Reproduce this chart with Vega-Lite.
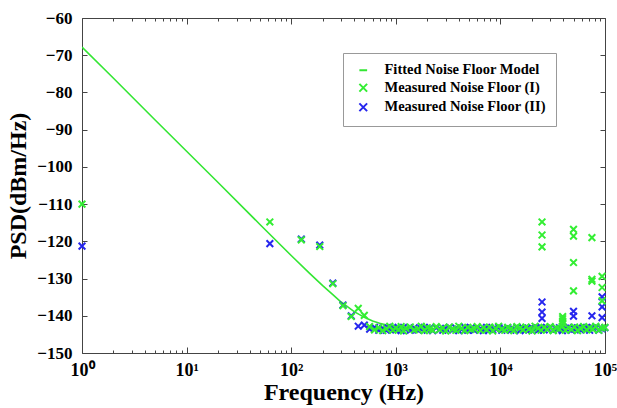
{
  "$schema": "https://vega.github.io/schema/vega-lite/v6.json",
  "width": 523,
  "height": 335,
  "autosize": "none",
  "padding": {"left": 82, "top": 18, "right": 12, "bottom": 55},
  "background": "white",
  "config": {
    "view": {"stroke": "#444", "strokeWidth": 1},
    "font": "Liberation Serif"
  },
  "datasets": {
    "fit": [
      {"f": 1, "psd": -67.8, "s": "fit"},
      {"f": 2, "psd": -76.2, "s": "fit"},
      {"f": 5, "psd": -87.4, "s": "fit"},
      {"f": 10, "psd": -95.8, "s": "fit"},
      {"f": 20, "psd": -104.2, "s": "fit"},
      {"f": 50, "psd": -115.4, "s": "fit"},
      {"f": 100, "psd": -123.8, "s": "fit"},
      {"f": 150, "psd": -128.6, "s": "fit"},
      {"f": 200, "psd": -131.9, "s": "fit"},
      {"f": 250, "psd": -134.3, "s": "fit"},
      {"f": 300, "psd": -136.3, "s": "fit"},
      {"f": 350, "psd": -137.7, "s": "fit"},
      {"f": 400, "psd": -138.9, "s": "fit"},
      {"f": 450, "psd": -139.7, "s": "fit"},
      {"f": 500, "psd": -140.4, "s": "fit"},
      {"f": 600, "psd": -141.4, "s": "fit"},
      {"f": 700, "psd": -142.0, "s": "fit"},
      {"f": 800, "psd": -142.4, "s": "fit"},
      {"f": 1000, "psd": -142.8, "s": "fit"},
      {"f": 1500, "psd": -143.3, "s": "fit"},
      {"f": 2000, "psd": -143.4, "s": "fit"},
      {"f": 5000, "psd": -143.5, "s": "fit"},
      {"f": 100000, "psd": -143.5, "s": "fit"}
    ],
    "pts": [
      {"f": 1, "I": -110, "II": -121.3},
      {"f": 62.5, "I": -114.8, "II": -120.6},
      {"f": 125, "I": -119.6, "II": -119.4},
      {"f": 187.5, "I": -121.4, "II": -121.0},
      {"f": 250, "I": -131.4, "II": -131.2},
      {"f": 312.5, "I": -137.3, "II": -137.1},
      {"f": 375, "I": -140.2, "II": -140.0},
      {"f": 437.5, "I": -138.0, "II": -142.8},
      {"f": 500, "I": -139.9, "II": -142.5},
      {"f": 562.5, "I": -142.9, "II": -143.6},
      {"f": 625, "I": -143.8, "II": -143.1},
      {"f": 687.5, "I": -143.2, "II": -143.9},
      {"f": 750, "I": -144.0, "II": -143.3},
      {"f": 812.5, "I": -143.5, "II": -143.9},
      {"f": 875, "I": -142.8, "II": -143.5},
      {"f": 937.5, "I": -143.9, "II": -143.1},
      {"f": 1000, "I": -143.3, "II": -143.8},
      {"f": 1062.5, "I": -143.7, "II": -143.4},
      {"f": 1125, "I": -142.9, "II": -144.0},
      {"f": 1187.5, "I": -144.1, "II": -143.1},
      {"f": 1250, "I": -143.4, "II": -143.7},
      {"f": 1375, "I": -143.0, "II": -143.9},
      {"f": 1500, "I": -143.8, "II": -143.2},
      {"f": 1625, "I": -143.6, "II": -143.8},
      {"f": 1750, "I": -142.8, "II": -143.5},
      {"f": 1875, "I": -144.0, "II": -143.1},
      {"f": 2000, "I": -143.2, "II": -143.9},
      {"f": 2125, "I": -143.5, "II": -143.3},
      {"f": 2250, "I": -143.9, "II": -144.0},
      {"f": 2437.5, "I": -142.9, "II": -143.2},
      {"f": 2625, "I": -143.7, "II": -143.7},
      {"f": 2812.5, "I": -143.3, "II": -143.9},
      {"f": 3000, "I": -144.1, "II": -143.4},
      {"f": 3250, "I": -143.0, "II": -143.1},
      {"f": 3500, "I": -143.6, "II": -143.8},
      {"f": 3750, "I": -143.9, "II": -143.3},
      {"f": 4000, "I": -142.8, "II": -144.0},
      {"f": 4250, "I": -143.4, "II": -143.6},
      {"f": 4562.5, "I": -144.0, "II": -143.1},
      {"f": 4875, "I": -143.1, "II": -143.9},
      {"f": 5250, "I": -143.7, "II": -143.3},
      {"f": 5625, "I": -143.5, "II": -143.9},
      {"f": 6000, "I": -142.9, "II": -143.2},
      {"f": 6437.5, "I": -143.9, "II": -143.6},
      {"f": 6875, "I": -143.2, "II": -144.0},
      {"f": 7375, "I": -143.8, "II": -143.1},
      {"f": 7875, "I": -143.0, "II": -143.7},
      {"f": 8437.5, "I": -144.1, "II": -143.8},
      {"f": 9000, "I": -143.4, "II": -143.4},
      {"f": 9625, "I": -142.8, "II": -143.1},
      {"f": 10312.5, "I": -143.6, "II": -143.9},
      {"f": 11000, "I": -143.9, "II": -143.5},
      {"f": 11750, "I": -143.1, "II": -143.2},
      {"f": 12562.5, "I": -143.5, "II": -143.9},
      {"f": 13437.5, "I": -144.0, "II": -143.7},
      {"f": 14375, "I": -142.9, "II": -143.1},
      {"f": 15375, "I": -143.3, "II": -144.0},
      {"f": 16437.5, "I": -143.8, "II": -143.3},
      {"f": 17562.5, "I": -143.0, "II": -143.7},
      {"f": 18750, "I": -143.6, "II": -143.8},
      {"f": 20062.5, "I": -144.1, "II": -143.2},
      {"f": 21437.5, "I": -142.8, "II": -143.5},
      {"f": 22937.5, "I": -143.4, "II": -143.9},
      {"f": 24500, "I": -143.9, "II": -143.1},
      {"f": 26187.5, "I": -143.1, "II": -143.8},
      {"f": 28000, "I": -143.7, "II": -143.4},
      {"f": 29937.5, "I": -142.9, "II": -143.1},
      {"f": 32000, "I": -144.0, "II": -143.9},
      {"f": 34250, "I": -143.3, "II": -143.6},
      {"f": 36625, "I": -143.5, "II": -143.2},
      {"f": 39125, "I": -142.8, "II": -144.0},
      {"f": 41812.5, "I": -143.9, "II": -143.3},
      {"f": 44687.5, "I": -143.2, "II": -143.1},
      {"f": 47812.5, "I": -143.7, "II": -143.9},
      {"f": 51125, "I": -143.0, "II": -143.6},
      {"f": 54625, "I": -144.0, "II": -143.2},
      {"f": 58375, "I": -143.4, "II": -143.8},
      {"f": 62437.5, "I": -142.9, "II": -143.4},
      {"f": 66750, "I": -143.8, "II": -143.1},
      {"f": 71375, "I": -143.2, "II": -143.9},
      {"f": 76312.5, "I": -143.6, "II": -143.3},
      {"f": 81562.5, "I": -142.8, "II": -143.1},
      {"f": 87187.5, "I": -143.9, "II": -143.9},
      {"f": 93250, "I": -143.3, "II": -143.5},
      {"f": 99687.5, "I": -143.1, "II": -143.2},
      {"f": 25000, "I": -114.8, "II": -136.3},
      {"f": 25000, "I": -118.3, "II": -139.0},
      {"f": 25000, "I": -121.5, "II": -140.7},
      {"f": 39375, "I": -140.2},
      {"f": 39375, "I": -140.8},
      {"f": 39375, "I": -141.4},
      {"f": 39375, "I": -142.0},
      {"f": 50000, "I": -116.8, "II": -138.8},
      {"f": 50000, "I": -118.6, "II": -140.1},
      {"f": 50000, "I": -125.7},
      {"f": 50000, "I": -133.3},
      {"f": 75000, "I": -119.0, "II": -140.0},
      {"f": 75000, "I": -130.2},
      {"f": 75000, "I": -130.7},
      {"f": 93750, "I": -129.4, "II": -134.9},
      {"f": 93750, "I": -132.4, "II": -137.6},
      {"f": 93750, "I": -136.0, "II": -140.5}
    ]
  },
  "resolve": {"axis": {"x": "independent", "y": "independent"}},
  "layer": [
    {
      "data": {"name": "fit"},
      "mark": {"type": "line", "strokeWidth": 1.6, "clip": true},
      "encoding": {
        "x": {
          "field": "f", "type": "quantitative",
          "scale": {"type": "log", "domain": [1, 100000], "nice": false},
          "axis": {
            "orient": "bottom",
            "values": [1,2,3,4,5,6,7,8,9,10,20,30,40,50,60,70,80,90,100,200,300,400,500,600,700,800,900,1000,2000,3000,4000,5000,6000,7000,8000,9000,10000,20000,30000,40000,50000,60000,70000,80000,90000,100000],
            "labelExpr": "abs(log(datum.value)/LN10 - round(log(datum.value)/LN10)) < 0.000001 ? '10' + ['⁰','¹','²','³','⁴','⁵'][round(log(datum.value)/LN10)] : ''",
            "labelOverlap": false,
            "labelFlush": false,
            "labelBound": false,
            "domain": false,
            "grid": false,
            "tickColor": "#444",
            "tickSize": {"condition": {"test": "abs(log(datum.value)/LN10 - round(log(datum.value)/LN10)) < 0.000001", "value": -6}, "value": -3},
            "labelFont": "Liberation Serif", "labelFontWeight": "bold", "labelFontSize": 18, "labelColor": "black",
            "labelPadding": 14,
            "title": "Frequency (Hz)",
            "titleFont": "Liberation Serif", "titleFontWeight": "bold", "titleFontSize": 24, "titleColor": "black",
            "titlePadding": -2
          }
        },
        "y": {
          "field": "psd", "type": "quantitative",
          "scale": {"domain": [-150, -60], "nice": false},
          "axis": {
            "orient": "left",
            "values": [-150,-140,-130,-120,-110,-100,-90,-80,-70,-60],
            "domain": false, "grid": false,
            "tickColor": "#444", "tickSize": -5,
            "labelFont": "Liberation Serif", "labelFontWeight": "bold", "labelFontSize": 17, "labelColor": "black",
            "labelPadding": 15,
            "title": "PSD(dBm/Hz)",
            "titleFont": "Liberation Serif", "titleFontWeight": "bold", "titleFontSize": 24, "titleColor": "black",
            "titlePadding": 6
          }
        },
        "color": {
          "field": "s", "type": "nominal",
          "scale": {"domain": ["fit", "I", "II"], "range": ["#33e633", "#33ee33", "#2626ee"]},
          "legend": {
            "orient": "none", "legendX": 261, "legendY": 35,
            "title": null,
            "labelExpr": "datum.label == 'fit' ? 'Fitted Noise Floor Model' : 'Measured Noise Floor (' + datum.label + ')'",
            "labelFont": "Liberation Serif", "labelFontWeight": "bold", "labelFontSize": 14.5, "labelColor": "black",
            "labelLimit": 0,
            "labelOffset": 14,
            "padding": 10,
            "rowPadding": 2.5,
            "symbolOffset": 3,
            "symbolSize": 60,
            "symbolStrokeWidth": 2,
            "fillColor": "white",
            "strokeColor": "#999"
          }
        }
      }
    },
    {
      "data": {"name": "pts"},
      "transform": [
        {"fold": ["II", "I"], "as": ["s", "psd"]},
        {"filter": "isValid(datum.psd) && datum.s == 'II'"}
      ],
      "mark": {"type": "point", "filled": false, "strokeWidth": 2, "size": 45, "opacity": 1},
      "encoding": {
        "x": {
          "field": "f", "type": "quantitative",
          "axis": {
            "orient": "top",
            "values": [1,2,3,4,5,6,7,8,9,10,20,30,40,50,60,70,80,90,100,200,300,400,500,600,700,800,900,1000,2000,3000,4000,5000,6000,7000,8000,9000,10000,20000,30000,40000,50000,60000,70000,80000,90000,100000],
            "labels": false, "title": null, "domain": false, "grid": false,
            "tickColor": "#444",
            "tickSize": {"condition": {"test": "abs(log(datum.value)/LN10 - round(log(datum.value)/LN10)) < 0.000001", "value": -6}, "value": -3}
          }
        },
        "y": {
          "field": "psd", "type": "quantitative",
          "axis": {
            "orient": "right",
            "values": [-150,-140,-130,-120,-110,-100,-90,-80,-70,-60],
            "labels": false, "title": null, "domain": false, "grid": false,
            "tickColor": "#444", "tickSize": -5
          }
        },
        "color": {"field": "s", "type": "nominal"},
        "shape": {
          "field": "s", "type": "nominal",
          "scale": {"domain": ["fit", "I", "II"], "range": ["M-1,0L1,0", "M-1,-1L1,1M-1,1L1,-1", "M-1,-1L1,1M-1,1L1,-1"]}
        }
      }
    },
    {
      "data": {"name": "pts"},
      "transform": [
        {"fold": ["II", "I"], "as": ["s", "psd"]},
        {"filter": "isValid(datum.psd) && datum.s == 'I'"}
      ],
      "mark": {"type": "point", "filled": false, "strokeWidth": 2, "size": 45, "opacity": 1},
      "encoding": {
        "x": {"field": "f", "type": "quantitative", "axis": null},
        "y": {"field": "psd", "type": "quantitative", "axis": null},
        "color": {"field": "s", "type": "nominal"},
        "shape": {"field": "s", "type": "nominal"}
      }
    }
  ]
}
